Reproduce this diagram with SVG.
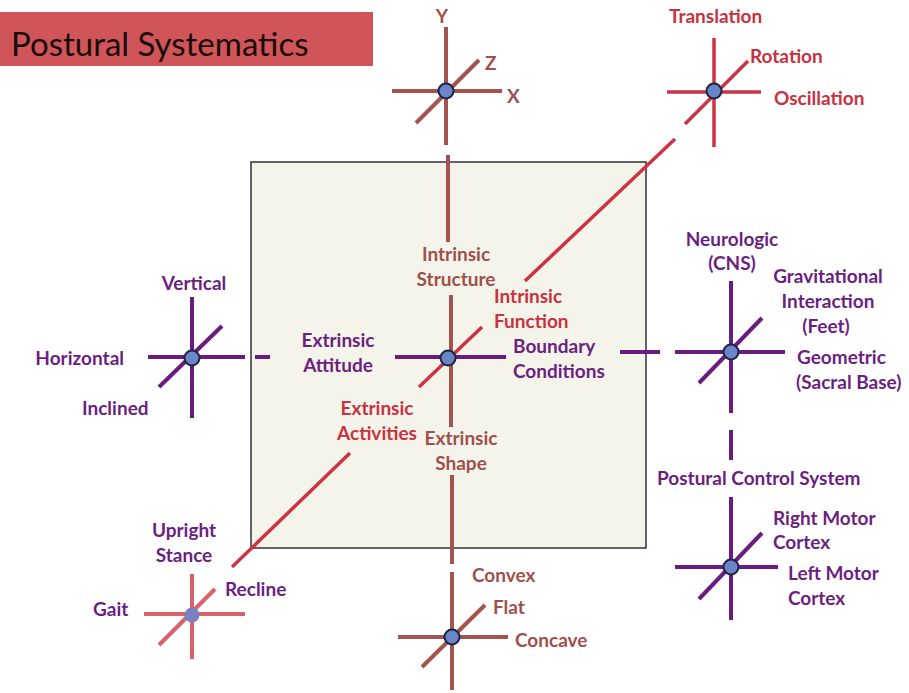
<svg xmlns="http://www.w3.org/2000/svg" width="909" height="693" viewBox="0 0 909 693">
<style>
.t{font-family:Lato,"Open Sans","Liberation Sans",sans-serif;font-weight:700;font-size:19px}
.br{fill:#a0504c}.rd{fill:#c8323f}.pu{fill:#6b1f7f}
.lb{stroke:#a4544f;stroke-width:4;fill:none}
.lr{stroke:#cc3444;stroke-width:3.5;fill:none}
.lp{stroke:#6a1b80;stroke-width:4;fill:none}
.lk{stroke:#d8626a;stroke-width:4;fill:none}
.dot{fill:#6a86c8;stroke:#1d2545;stroke-width:2}
.m{text-anchor:middle}.e{text-anchor:end}
</style>
<rect width="909" height="693" fill="#ffffff"/>
<g id="title">
<rect x="0" y="12" width="373" height="54" fill="#d05558"/>
<text x="11" y="56" font-family="Lato,'Open Sans','Liberation Sans',sans-serif" font-size="33" fill="#1a0a0a">Postural Systematics</text>
</g>
<g id="box">
<rect x="251" y="162" width="395" height="386" fill="#f5f4ea" stroke="#3e3e3e" stroke-width="1.6"/>
</g>
<g id="connectors">
<line class="lb" x1="448" y1="155" x2="448" y2="242"/>
<line class="lb" x1="452" y1="475" x2="452" y2="564"/>
<line class="lr" x1="232" y1="567" x2="350" y2="453"/>
<line class="lr" x1="525" y1="281" x2="675" y2="139"/>
<line class="lp" x1="255" y1="357" x2="270" y2="357"/>
<line class="lp" x1="620" y1="352" x2="660" y2="352"/>
<line class="lp" x1="731" y1="430" x2="731" y2="460"/>
</g>
<g id="top-cross">
<line class="lb" x1="446" y1="27" x2="446" y2="145"/>
<line class="lb" x1="392" y1="91" x2="502" y2="91"/>
<line class="lb" x1="416" y1="123" x2="479" y2="60"/>
<circle class="dot" cx="446" cy="91" r="7.5"/>
<text class="t br m" x="442" y="23">Y</text>
<text class="t br" x="485" y="70">Z</text>
<text class="t br" x="507" y="103">X</text>
</g>
<g id="topright-cross">
<line class="lr" x1="714" y1="38" x2="714" y2="147"/>
<line class="lr" x1="667" y1="92" x2="761" y2="92"/>
<line class="lr" x1="685" y1="124" x2="748" y2="61"/>
<circle class="dot" cx="714" cy="91" r="7.5"/>
<text class="t rd" x="669" y="23">Translation</text>
<text class="t rd" x="750" y="63">Rotation</text>
<text class="t rd" x="774" y="105">Oscillation</text>
</g>
<g id="left-cross">
<line class="lp" x1="192" y1="297" x2="192" y2="418"/>
<line class="lp" x1="148" y1="357" x2="245" y2="357"/>
<line class="lp" x1="159" y1="387" x2="222" y2="326"/>
<circle class="dot" cx="192" cy="358" r="7.5"/>
<text class="t pu m" x="194" y="290">Vertical</text>
<text class="t pu e" x="124" y="365">Horizontal</text>
<text class="t pu" x="82" y="415">Inclined</text>
</g>
<g id="center-cross">
<line class="lb" x1="451" y1="295" x2="451" y2="427"/>
<line class="lp" x1="395" y1="357" x2="506" y2="357"/>
<line class="lr" x1="419" y1="387" x2="482" y2="327"/>
<circle class="dot" cx="448" cy="358" r="7.5"/>
<text class="t br m" x="456" y="261">Intrinsic</text>
<text class="t br m" x="456" y="286">Structure</text>
<text class="t rd" x="494" y="303">Intrinsic</text>
<text class="t rd" x="494" y="328">Function</text>
<text class="t pu" x="513" y="353">Boundary</text>
<text class="t pu" x="513" y="378">Conditions</text>
<text class="t pu m" x="338" y="347">Extrinsic</text>
<text class="t pu m" x="338" y="372">Attitude</text>
<text class="t rd m" x="377" y="415">Extrinsic</text>
<text class="t rd m" x="377" y="440">Activities</text>
<text class="t br m" x="461" y="445">Extrinsic</text>
<text class="t br m" x="461" y="470">Shape</text>
</g>
<g id="right-cross">
<line class="lp" x1="731" y1="281" x2="731" y2="413"/>
<line class="lp" x1="675" y1="352" x2="785" y2="352"/>
<line class="lp" x1="699" y1="383" x2="762" y2="318"/>
<circle class="dot" cx="731" cy="352" r="7.5"/>
<text class="t pu m" x="732" y="246">Neurologic</text>
<text class="t pu m" x="732" y="270">(CNS)</text>
<text class="t pu m" x="828" y="283">Gravitational</text>
<text class="t pu m" x="828" y="308">Interaction</text>
<text class="t pu m" x="826" y="333">(Feet)</text>
<text class="t pu" x="797" y="364">Geometric</text>
<text class="t pu" x="796" y="389">(Sacral Base)</text>
</g>
<g id="motor-cross">
<line class="lp" x1="731" y1="497" x2="731" y2="620"/>
<line class="lp" x1="675" y1="567" x2="778" y2="567"/>
<line class="lp" x1="699" y1="599" x2="762" y2="533"/>
<circle class="dot" cx="731" cy="567" r="7.5"/>
<text class="t pu" x="657" y="485">Postural Control System</text>
<text class="t pu" x="773" y="525">Right Motor</text>
<text class="t pu" x="773" y="549">Cortex</text>
<text class="t pu" x="788" y="580">Left Motor</text>
<text class="t pu" x="788" y="605">Cortex</text>
</g>
<g id="bottomleft-cross">
<line class="lk" x1="192" y1="574" x2="192" y2="659"/>
<line class="lk" x1="144" y1="614" x2="245" y2="614"/>
<line class="lk" x1="159" y1="645" x2="215" y2="589"/>
<circle cx="192" cy="615" r="7.5" fill="#7880c4"/>
<text class="t pu m" x="184" y="537">Upright</text>
<text class="t pu m" x="184" y="562">Stance</text>
<text class="t pu" x="225" y="596">Recline</text>
<text class="t pu" x="93" y="616">Gait</text>
</g>
<g id="bottom-cross">
<line class="lb" x1="452" y1="572" x2="452" y2="690"/>
<line class="lb" x1="398" y1="637" x2="508" y2="637"/>
<line class="lb" x1="422" y1="667" x2="485" y2="605"/>
<circle class="dot" cx="452" cy="637" r="7.5"/>
<text class="t br" x="472" y="582">Convex</text>
<text class="t br" x="493" y="614">Flat</text>
<text class="t br" x="515" y="647">Concave</text>
</g>
</svg>
